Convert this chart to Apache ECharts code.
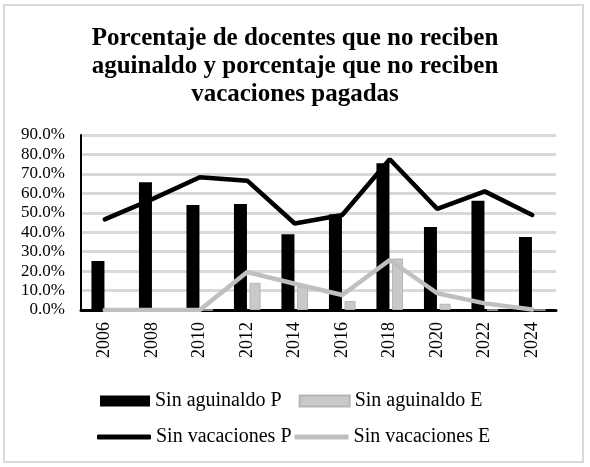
<!DOCTYPE html>
<html>
<head>
<meta charset="utf-8">
<script src="https://cdn.jsdelivr.net/npm/echarts@6/dist/echarts.min.js"></script>
<style>
  html, body { margin: 0; padding: 0; background: #fff; }
  #container { width: 590px; height: 467px; }
</style>
</head>
<body>
<div id="container"></div>
<script>
// valores
var years = ['2006', '2008', '2010', '2012', '2014', '2016', '2018', '2020', '2022', '2024'];
var sinAguinaldoP = [25.2, 65.7, 54.0, 54.5, 39.0, 49.2, 75.5, 42.7, 56.2, 37.5];
var sinAguinaldoE = [0, 0, 0, 14.0, 12.0, 4.6, 26.5, 3.2, 0, 0];
var sinVacacionesP = [46.6, 57.0, 68.3, 66.5, 44.5, 48.9, 77.5, 52.0, 61.0, 48.9];
var sinVacacionesE = [0, 0, 0, 19.5, 13.5, 7.7, 25.7, 8.6, 3.4, 0.3];

var font = 'Liberation Serif';

var dom = document.getElementById('container');
var myChart = echarts.init(dom, null, { renderer: 'canvas' });

var option = {
    animation: false,
    backgroundColor: '#fff',
    graphic: [{
        type: 'rect',
        shape: { x: 4, y: 5, width: 579, height: 457 },
        style: { fill: 'none', stroke: '#d9d9d9', lineWidth: 2 }
    }],
    title: {
        text: 'Porcentaje de docentes que no reciben\naguinaldo y porcentaje que no reciben\nvacaciones pagadas',
        left: 'center',
        top: 20,
        textStyle: {
            fontFamily: font,
            fontWeight: 'bold',
            fontSize: 25,
            lineHeight: 28,
            color: '#000'
        }
    },
    legend: [{
        data: ['Sin aguinaldo P', 'Sin aguinaldo E'],
        left: 95,
        top: 386,
        icon: 'rect',
        itemWidth: 50,
        itemHeight: 11,
        itemGap: 17,
        textStyle: { fontFamily: font, fontSize: 20, color: '#000' }
    }, {
        data: ['Sin vacaciones P', 'Sin vacaciones E'],
        left: 92,
        top: 422,
        icon: 'roundRect',
        itemWidth: 54,
        itemHeight: 5,
        itemGap: 3,
        textStyle: { fontFamily: font, fontSize: 20, color: '#000' }
    }],
    grid: {
        left: 81,
        right: 34,
        top: 135,
        bottom: 157
    },
    xAxis: {
        type: 'category',
        data: years,
        axisLine: { lineStyle: { color: '#000', width: 3 } },
        axisTick: { show: false },
        axisLabel: {
            rotate: 90,
            margin: 12,
            fontFamily: font,
            fontSize: 18,
            color: '#000'
        }
    },
    yAxis: {
        type: 'value',
        min: 0,
        max: 90,
        interval: 10,
        axisLine: { show: true, lineStyle: { color: '#000', width: 2 } },
        axisTick: { show: false },
        splitLine: { lineStyle: { color: '#d9d9d9', width: 3 } },
        axisLabel: {
            margin: 16,
            fontFamily: font,
            fontSize: 17,
            color: '#000',
            formatter: function (v) { return v.toFixed(1) + '%'; }
        }
    },
    series: [{
        name: 'Sin aguinaldo P',
        type: 'bar',
        barWidth: 13,
        barGap: '20%',
        itemStyle: { color: '#000' },
        data: sinAguinaldoP
    }, {
        name: 'Sin aguinaldo E',
        type: 'bar',
        barWidth: 11,
        barGap: '20%',
        itemStyle: { color: '#c9c9c9', borderColor: '#b5b5b5', borderWidth: 1 },
        data: sinAguinaldoE
    }, {
        name: 'Sin vacaciones P',
        type: 'line',
        symbol: 'none',
        lineStyle: { color: '#000', width: 4.5, cap: 'round' },
        itemStyle: { color: '#000' },
        data: sinVacacionesP
    }, {
        name: 'Sin vacaciones E',
        type: 'line',
        symbol: 'none',
        lineStyle: { color: '#bfbfbf', width: 4.5, cap: 'round' },
        itemStyle: { color: '#bfbfbf' },
        data: sinVacacionesE
    }]
};

myChart.setOption(option);
window.addEventListener('resize', myChart.resize);
</script>
</body>
</html>
